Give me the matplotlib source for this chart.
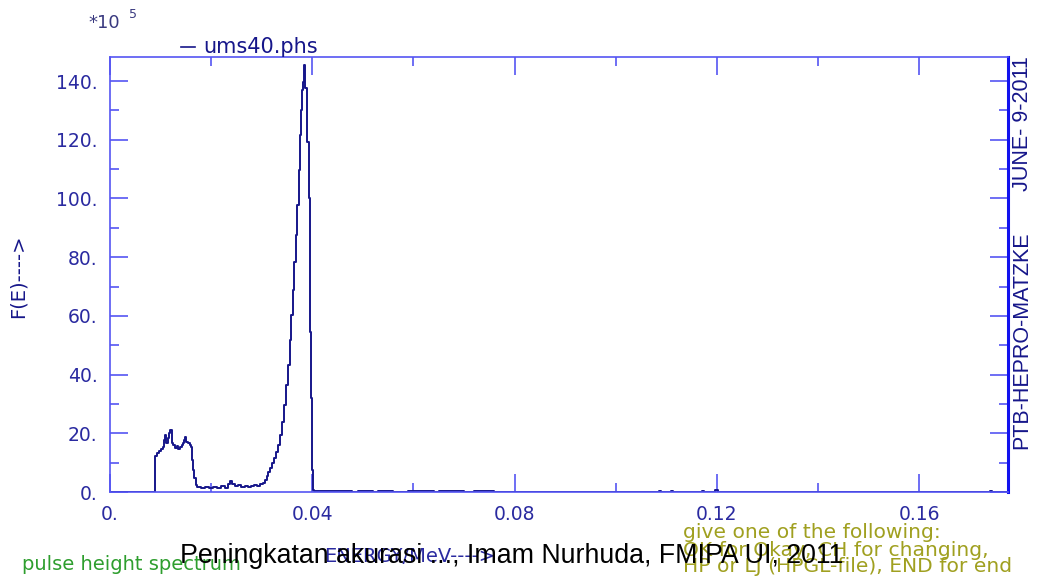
import matplotlib.pyplot as plt
from matplotlib.ticker import MultipleLocator, FuncFormatter

# pulse height spectrum, energy in MeV, F(E) in units of 1e5
energy = [0.0, 0.0088, 0.0092, 0.0096, 0.0100, 0.0104, 0.0106, 0.0108, 0.0110,
          0.0114, 0.0116, 0.0118, 0.0122, 0.0124, 0.0128, 0.0132, 0.0134, 0.0138,
          0.0142, 0.0144, 0.0147, 0.0149, 0.0151, 0.0155, 0.0159, 0.0161, 0.0163,
          0.0165, 0.0167, 0.0171, 0.0173, 0.0179, 0.0187, 0.0195, 0.0203, 0.0211,
          0.0219, 0.0227, 0.0234, 0.0238, 0.0242, 0.0248, 0.0254, 0.0260, 0.0266,
          0.0272, 0.0278, 0.0284, 0.0290, 0.0296, 0.0302, 0.0306, 0.0310, 0.0313,
          0.0317, 0.0321, 0.0325, 0.0329, 0.0333, 0.0337, 0.0341, 0.0345, 0.0349,
          0.0352, 0.0355, 0.0358, 0.0361, 0.0364, 0.0367, 0.0370, 0.0373, 0.0376,
          0.0378, 0.0380, 0.0382, 0.0384, 0.0386, 0.0390, 0.0393, 0.0395, 0.0398,
          0.0400, 0.0402, 0.0403, 0.0478, 0.0490, 0.0520, 0.0530, 0.0560, 0.0590,
          0.0640, 0.0650, 0.0700, 0.0720, 0.0760, 0.1085, 0.1089, 0.1110, 0.1114,
          0.1170, 0.1174, 0.1197, 0.1203, 0.1740, 0.1744, 0.1776]
flux = [0.0, 12.3, 13.3, 14.0, 14.6, 15.3, 17.7, 19.4, 16.7,
        18.4, 20.1, 21.1, 16.7, 16.0, 15.0, 15.7, 14.6, 15.3,
        16.0, 16.7, 17.7, 18.7, 17.0, 16.7, 16.0, 15.3, 10.9,
        7.5, 4.8, 2.4, 1.7, 1.4, 1.7, 1.2, 1.7, 1.4,
        1.9, 1.4, 2.7, 3.7, 2.7, 2.0, 2.4, 1.7, 2.0,
        1.7, 2.0, 2.4, 2.0, 2.7, 3.1, 4.1, 5.4, 6.8,
        8.2, 9.9, 11.6, 13.6, 16.0, 19.4, 23.8, 29.6, 36.4,
        43.3, 51.8, 60.3, 68.8, 78.3, 87.5, 97.8, 109.7, 121.6,
        130.1, 136.9, 139.6, 145.5, 137.6, 119.2, 100.1, 54.5, 32.0,
        7.5, 0.7, 0.3, 0.15, 0.3, 0.1, 0.3, 0.15, 0.3,
        0.0, 0.3, 0.1, 0.3, 0.0, 0.4, 0.0, 0.4, 0.0,
        0.4, 0.0, 0.6, 0.0, 0.4, 0.0, 0.0]

x_ticks = [0.0, 0.04, 0.08, 0.12, 0.16]
x_labels = ["0.", "0.04", "0.08", "0.12", "0.16"]

NAVY = "#16168a"
AXBLUE = "#5555f2"
LABEL = "#2a2aa0"
OLIVE = "#a0a020"
GREEN = "#2e9e2e"
WIDE = "DejaVu Sans"

plt.rcParams["font.family"] = ["Liberation Sans", "DejaVu Sans"]

fig = plt.figure(figsize=(10.64, 5.77), dpi=100)
ax = fig.add_axes([0.1034, 0.1473, 0.8440, 0.7544])

ax.plot(energy, flux, drawstyle="steps-post", color=NAVY, lw=1.4)

ax.set_xlim(0, 0.1776)
ax.set_ylim(0, 148.3)

for side in ["left", "top", "bottom"]:
    ax.spines[side].set_color(AXBLUE)
    ax.spines[side].set_linewidth(1.2)
ax.spines["right"].set_color("#1212ee")
ax.spines["right"].set_linewidth(2.2)

ax.xaxis.set_minor_locator(MultipleLocator(0.02))
ax.yaxis.set_major_locator(MultipleLocator(20))
ax.yaxis.set_minor_locator(MultipleLocator(10))
ax.set_xticks(x_ticks)
ax.set_xticklabels(x_labels)
ax.yaxis.set_major_formatter(FuncFormatter(lambda v, p: "%d." % round(v)))

ax.tick_params(which="both", direction="in", colors=AXBLUE, labelcolor=LABEL,
               labelsize=13.5, right=True, top=True, width=1.2)
ax.tick_params(which="major", length=13)
ax.tick_params(which="minor", length=6.5)
ax.tick_params(axis="x", pad=9)
ax.tick_params(axis="y", pad=9)
for lab in ax.get_xticklabels() + ax.get_yticklabels():
    lab.set_family(WIDE)

fig.text(18 / 1064, 1 - 276 / 577, "F(E)---->", rotation=90, color=NAVY,
         fontsize=14, family=WIDE, va="center", ha="center")

# legend entry above the frame
fig.add_artist(plt.Line2D([181 / 1064, 195 / 1064], [1 - 47 / 577, 1 - 47 / 577],
                          color=NAVY, lw=1.2))
fig.text(203 / 1064, 1 - 47 / 577, "ums40.phs", color=NAVY, fontsize=15,
         family=WIDE, va="center", ha="left")

fig.text(88 / 1064, 1 - 23 / 577, "*10", color="#3a3a80", fontsize=13,
         family=WIDE, va="center", ha="left")
fig.text(129 / 1064, 1 - 15 / 577, "5", color="#3a3a80", fontsize=9,
         family=WIDE, va="center", ha="left")

fig.text(1022 / 1064, 1 - 340 / 577, "PTB-HEPRO-MATZKE", rotation=90,
         color=NAVY, fontsize=15.5, va="center", ha="center")
fig.text(1022 / 1064, 1 - 124 / 577, "JUNE- 9-2011", rotation=90,
         color=NAVY, fontsize=15.5, va="center", ha="center")

# prompt lines at the bottom
fig.text(22 / 1064, 1 - 564 / 577, "pulse height spectrum", color=GREEN,
         fontsize=14, family=WIDE, va="center", ha="left", zorder=1)
fig.text(324 / 1064, 1 - 557 / 577, "ENERGY/MeV---->", color=LABEL,
         fontsize=14, family=WIDE, va="center", ha="left", zorder=1)
fig.text(683 / 1064, 1 - 533 / 577, "give one of the following:", color=OLIVE,
         fontsize=14.6, family=WIDE, va="center", ha="left", zorder=1)
fig.text(683 / 1064, 1 - 550 / 577, "OK for Okay, CH for changing,", color=OLIVE,
         fontsize=14.6, family=WIDE, va="center", ha="left", zorder=1)
fig.text(683 / 1064, 1 - 567 / 577, "HP or LJ (HPGL-file), END for end", color=OLIVE,
         fontsize=14.6, family=WIDE, va="center", ha="left", zorder=1)

fig.text(180 / 1064, 1 - 556 / 577, "Peningkatan akurasi ..., Imam Nurhuda, FMIPA UI, 2011",
         color="black", fontsize=19.3, va="center", ha="left", zorder=5)

fig.savefig("out.png", dpi=100)
